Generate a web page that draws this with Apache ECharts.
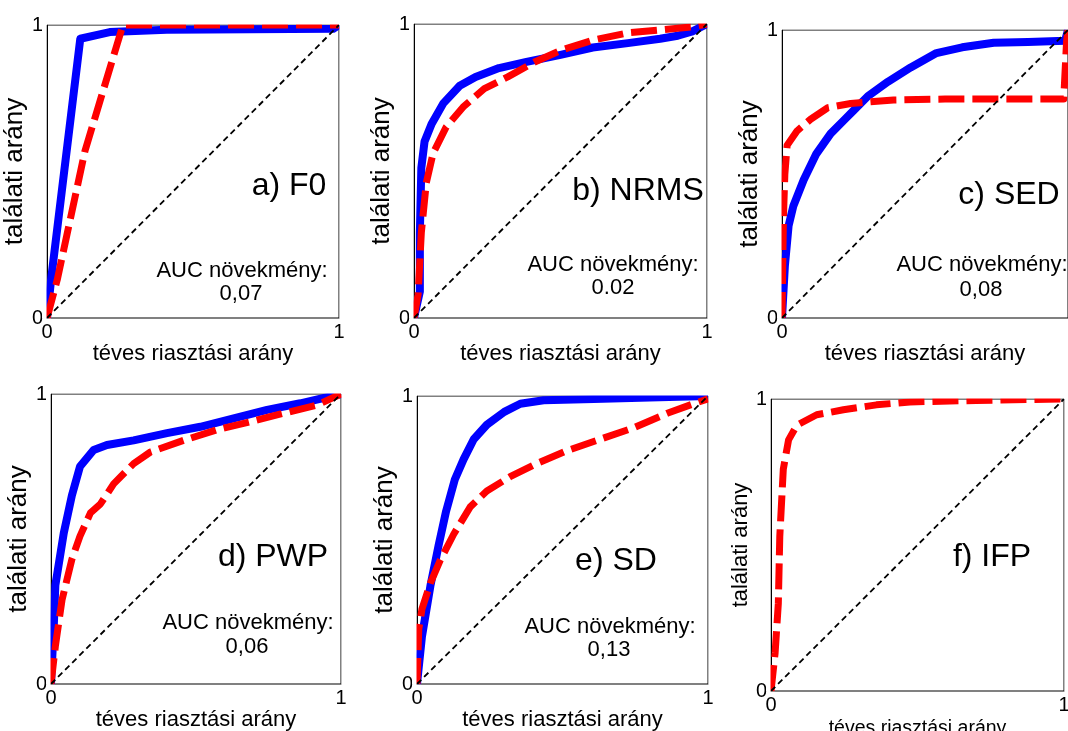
<!DOCTYPE html>
<html><head><meta charset="utf-8">
<script src="https://cdn.jsdelivr.net/npm/echarts@6/dist/echarts.min.js"></script>
<style>html,body{margin:0;padding:0;background:#fff}#c{width:1068px;height:731px}</style>
</head><body><div id="c"></div>
<script>
// ---- data ----
const xName = 'téves riasztási arány';
const yName = 'találati arány';
const tickLabels = ['0', '1'];
const panelTitles = ['a) F0', 'b) NRMS', 'c) SED', 'd) PWP', 'e) SD', 'f) IFP'];
const aucLabel = 'AUC növekmény:';
const aucValues = ['0,07', '0.02', '0,08', '0,06', '0,13', ''];
const diagonal = [[0, 0], [1, 1]];

const f0Blue = [[0,0],[0.015,0.14],[0.114,0.953],[0.215,0.976],[0.41,0.984],[0.98,0.987],[1,1]];
const f0Red = [[0,0],[0.035,0.13],[0.13,0.57],[0.26,1],[1,1]];

const nrmsBlue = [[0,0],[0.02,0.09],[0.02,0.29],[0.025,0.51],[0.036,0.6],[0.06,0.66],[0.1,0.73],[0.156,0.79],[0.21,0.82],[0.29,0.85],[0.38,0.87],[0.5,0.895],[0.61,0.92],[0.73,0.935],[0.84,0.95],[0.9,0.96],[0.95,0.975],[1,1]];
const nrmsRed = [[0,0],[0.014,0.08],[0.025,0.29],[0.042,0.46],[0.065,0.56],[0.11,0.65],[0.17,0.72],[0.24,0.78],[0.32,0.82],[0.41,0.87],[0.5,0.91],[0.61,0.945],[0.73,0.97],[0.84,0.98],[0.95,0.99],[1,1]];

const sedBlue = [[0,0],[0.01,0.18],[0.023,0.32],[0.04,0.39],[0.076,0.48],[0.12,0.57],[0.17,0.64],[0.22,0.69],[0.25,0.72],[0.3,0.77],[0.37,0.82],[0.45,0.87],[0.54,0.92],[0.63,0.94],[0.74,0.956],[0.86,0.958],[0.99,0.963],[1,1]];
const sedRed = [[0,0],[0.005,0.35],[0.01,0.5],[0.018,0.6],[0.053,0.65],[0.1,0.69],[0.16,0.73],[0.24,0.745],[0.39,0.757],[0.57,0.76],[0.8,0.76],[0.985,0.76],[0.995,0.96],[1,1]];

const pwpBlue = [[0,0],[0.01,0.21],[0.015,0.34],[0.044,0.52],[0.072,0.65],[0.1,0.75],[0.147,0.807],[0.193,0.824],[0.285,0.84],[0.4,0.865],[0.515,0.887],[0.63,0.916],[0.745,0.945],[0.86,0.968],[1,1]];
const pwpRed = [[0,0],[0.015,0.13],[0.038,0.29],[0.072,0.43],[0.1,0.51],[0.136,0.59],[0.17,0.62],[0.216,0.69],[0.285,0.76],[0.343,0.8],[0.457,0.84],[0.57,0.876],[0.69,0.905],[0.8,0.933],[0.917,0.962],[1,1]];

const sdBlue = [[0,0],[0.017,0.165],[0.046,0.34],[0.074,0.48],[0.1,0.6],[0.13,0.71],[0.16,0.78],[0.195,0.85],[0.24,0.9],[0.3,0.945],[0.355,0.973],[0.435,0.985],[0.607,0.99],[0.8,0.995],[1,1]];
const sdRed = [[0,0],[0.006,0.19],[0.017,0.26],[0.046,0.35],[0.08,0.43],[0.126,0.52],[0.183,0.615],[0.24,0.67],[0.32,0.72],[0.41,0.765],[0.515,0.81],[0.63,0.85],[0.745,0.89],[0.86,0.94],[0.95,0.973],[1,0.99]];

const ifpBlue = null;
const ifpRed = [[0,0],[0.014,0.13],[0.025,0.3],[0.03,0.53],[0.042,0.76],[0.06,0.86],[0.088,0.91],[0.156,0.946],[0.247,0.963],[0.36,0.98],[0.474,0.99],[0.7,0.995],[1,1]];

const blueCurves = [f0Blue, nrmsBlue, sedBlue, pwpBlue, sdBlue, ifpBlue];
const redCurves = [f0Red, nrmsRed, sedRed, pwpRed, sdRed, ifpRed];

// ---- layout ----
const FONT = '"Liberation Sans", Arial, Helvetica, sans-serif';
const grids = [
  {left:47, top:25, width:292, height:293},
  {left:414, top:24, width:293, height:294},
  {left:782, top:30, width:286, height:288},
  {left:51, top:394, width:290, height:290},
  {left:417, top:396, width:291, height:288},
  {left:771, top:399, width:293, height:292}
];
const titlePos = [[289,186],[638,191],[1009,195],[273,557],[616,561],[992,557]];
const aucPos = [[242,271,241,294],[613,265,613,288],[982,265,981,290],[248,623,247,647],[610,627,609,650]];
const xNameSize = [22,22,22,22,22,19.5];
const yNameSize = [26,26,26,26,26,22];
const xNameGap = [23,23,23,25,25,28];

const option = {
  animation: false,
  backgroundColor: '#fff',
  grid: grids.map(g => Object.assign({show:true, borderColor:'#000', borderWidth:1, backgroundColor:'transparent', containLabel:false, outerBoundsMode:'none'}, g)),
  xAxis: grids.map((g, i) => ({
    gridIndex: i, type: 'value', min: 0, max: 1, interval: 1,
    axisLine: {show: true, onZero: false, lineStyle: {color: '#000', width: 1}},
    axisTick: {show: false}, splitLine: {show: false},
    axisLabel: {color: '#000', fontSize: 20, fontFamily: FONT, margin: 4,
      showMaxLabel: i !== 2, showMinLabel: true,
      formatter: v => tickLabels[Math.round(v)]},
    name: xName, nameLocation: 'middle', nameGap: xNameGap[i],
    nameTextStyle: {color: '#000', fontSize: xNameSize[i], fontFamily: FONT}
  })),
  yAxis: grids.map((g, i) => ({
    gridIndex: i, type: 'value', min: 0, max: 1, interval: 1,
    axisLine: {show: true, onZero: false, lineStyle: {color: '#000', width: 1}},
    axisTick: {show: false}, splitLine: {show: false},
    axisLabel: {color: '#000', fontSize: 20, fontFamily: FONT, margin: 4,
      showMaxLabel: true, showMinLabel: true,
      formatter: v => tickLabels[Math.round(v)]},
    name: yName, nameLocation: 'middle', nameGap: 9,
    nameTextStyle: {color: '#000', fontSize: yNameSize[i], fontFamily: FONT}
  })),
  series: [],
  graphic: []
};

grids.forEach((g, i) => {
  if (blueCurves[i]) {
    option.series.push({type:'line', xAxisIndex:i, yAxisIndex:i, data: blueCurves[i], symbol:'none', silent:true,
      lineStyle:{color:'#0000ff', width:8, join:'round', cap:'butt'}});
  }
  option.series.push({type:'line', xAxisIndex:i, yAxisIndex:i, data: redCurves[i], symbol:'none', silent:true,
    lineStyle:{color:'#ff0000', width:7, type:[26,8], join:'round', cap:'butt'}});
  option.series.push({type:'line', xAxisIndex:i, yAxisIndex:i, data: diagonal, symbol:'none', silent:true,
    lineStyle:{color:'#000', width:1.8, type:[6,4]}});
  // white masks just outside the plot box, so thick lines are clipped at the box like the original
  const m = 4.5;
  [[g.left - m - 0.5, g.top - m - 0.5, g.width + 2 * m + 1, m],
   [g.left - m - 0.5, g.top + g.height + 0.5, g.width + 2 * m + 1, m],
   [g.left - m - 0.5, g.top, m, g.height], [g.left + g.width + 0.5, g.top, m, g.height]].forEach(r => {
    option.graphic.push({type:'rect', z: 50, silent:true, shape:{x:r[0], y:r[1], width:r[2], height:r[3]}, style:{fill:'#fff'}});
  });
  option.graphic.push({type:'text', x: titlePos[i][0], y: titlePos[i][1], z: 100,
    style:{text: panelTitles[i], fill:'#000', font: '32px ' + FONT, align:'center', verticalAlign:'middle', textAlign:'center', textVerticalAlign:'middle'}});
  if (aucValues[i]) {
    const p = aucPos[i];
    option.graphic.push({type:'text', x: p[0], y: p[1], z: 100,
      style:{text: aucLabel, fill:'#000', font: '22px ' + FONT, align:'center', verticalAlign:'middle', textAlign:'center', textVerticalAlign:'middle'}});
    option.graphic.push({type:'text', x: p[2], y: p[3], z: 100,
      style:{text: aucValues[i], fill:'#000', font: '22px ' + FONT, align:'center', verticalAlign:'middle', textAlign:'center', textVerticalAlign:'middle'}});
  }
});

const chart = echarts.init(document.getElementById('c'), null, {renderer:'canvas'});
chart.setOption(option);
</script></body></html>
